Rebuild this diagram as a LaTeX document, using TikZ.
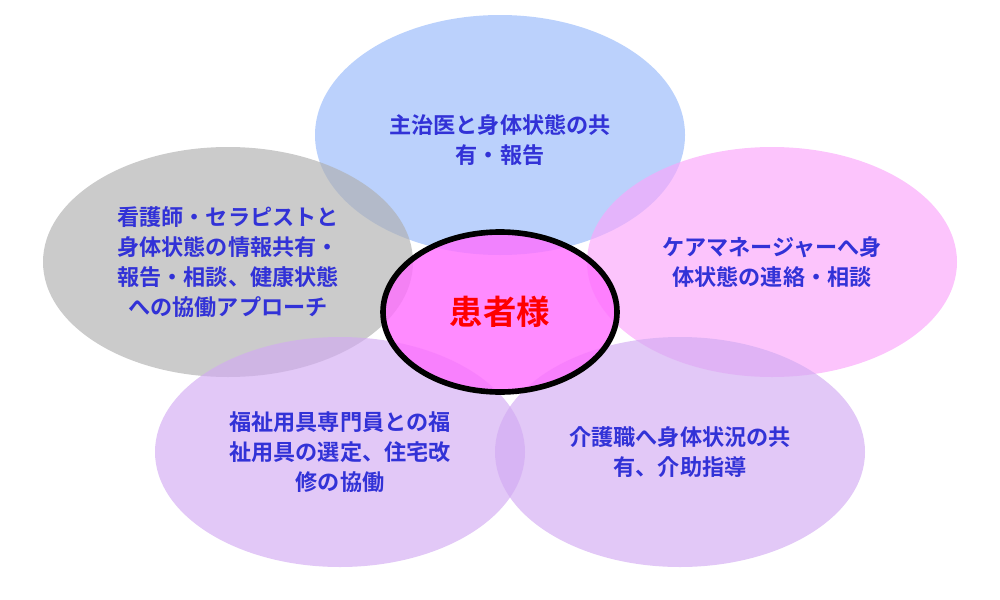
\documentclass[tikz,border=0pt]{standalone}
\usepackage{fontspec}
\newfontfamily\cjk{Noto Sans CJK JP}[BoldFont={* Bold}]
\begin{document}
\begin{tikzpicture}[x=0.01cm,y=-0.01cm,
  petal/.style={fill opacity=0.65},
  lbl/.style={font=\cjk\bfseries\fontsize{6.3}{8.6}\selectfont, text={rgb,255:red,50;green,50;blue,215}, align=center}]
\useasboundingbox (0,0) rectangle (1000,600);
\fill[petal, fill={rgb,255:red,150;green,185;blue,250}] (500,135) ellipse [x radius=185, y radius=120];
\fill[petal, fill={rgb,255:red,175;green,175;blue,175}] (228,262) ellipse [x radius=185, y radius=115];
\fill[petal, fill={rgb,255:red,250;green,165;blue,250}] (772,262) ellipse [x radius=185, y radius=115];
\fill[petal, fill={rgb,255:red,210;green,170;blue,242}] (340,452) ellipse [x radius=185, y radius=115];
\fill[petal, fill={rgb,255:red,210;green,170;blue,242}] (680,452) ellipse [x radius=185, y radius=115];
\fill[fill={rgb,255:red,255;green,110;blue,255}, fill opacity=0.8] (500,312) ellipse [x radius=117, y radius=80];
\draw[line width=1.6pt] (500,312) ellipse [x radius=117, y radius=80];
\node[lbl] (t) at (500,140) {主治医と身体状態の共\\有・報告};
\node[lbl] (l) at (228,262) {看護師・セラピストと\\身体状態の情報共有・\\報告・相談、健康状態\\への協働アプローチ};
\node[lbl] (r) at (772,262) {ケアマネージャーへ身\\体状態の連絡・相談};
\node[lbl] (bl) at (340,452) {福祉用具専門員との福\\祉用具の選定、住宅改\\修の協働};
\node[lbl] (br) at (680,452) {介護職へ身体状況の共\\有、介助指導};
\node[font=\cjk\bfseries\fontsize{9.5}{11}\selectfont, text=red] (c) at (500,312) {患者様};
\end{tikzpicture}
\end{document}
